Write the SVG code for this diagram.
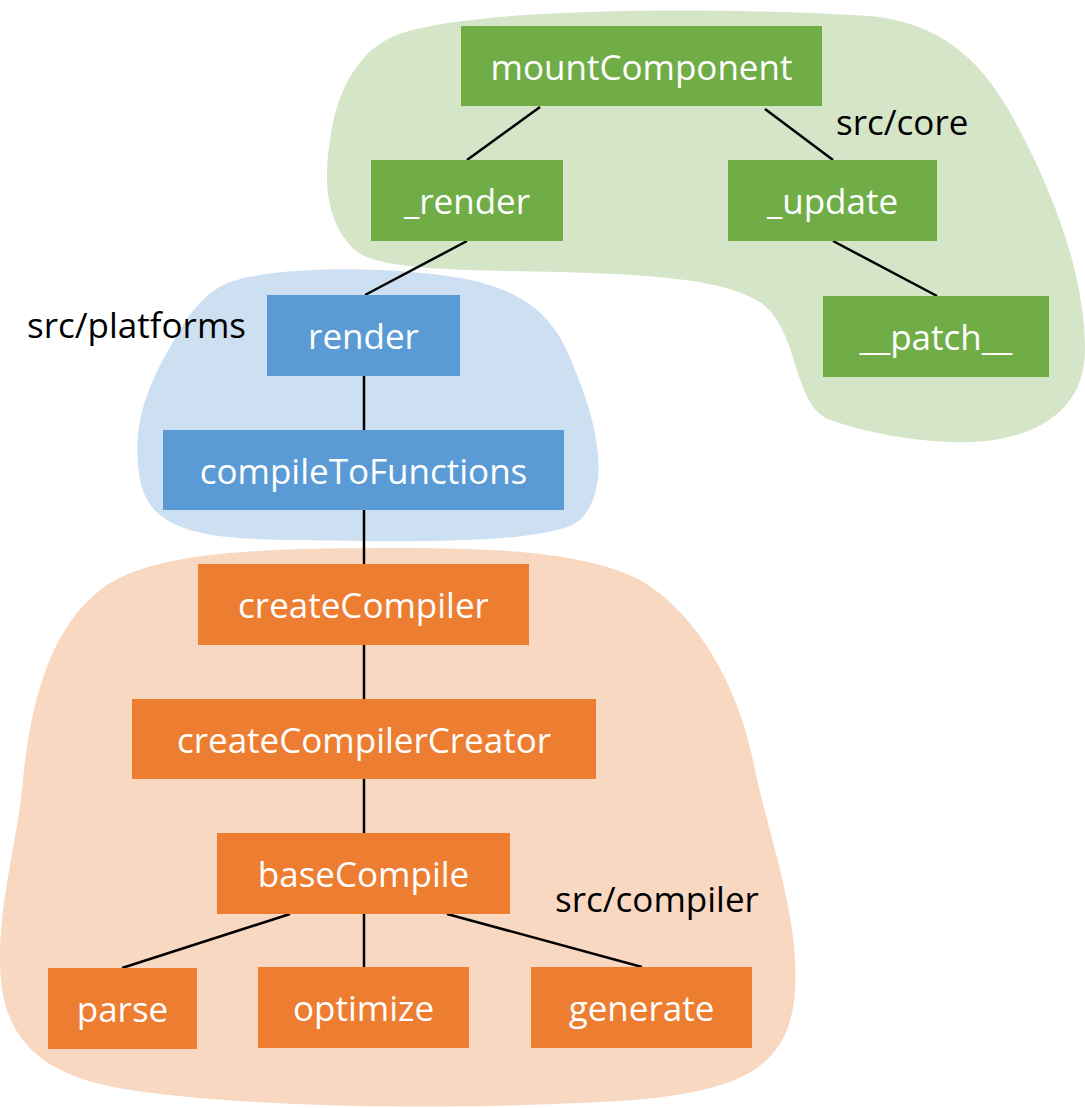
<svg xmlns="http://www.w3.org/2000/svg" width="1085" height="1108" viewBox="0 0 1085 1108">
<style>
.g{fill:#70AD47}.b{fill:#5B9BD5}.o{fill:#ED7D31}
.t{font-family:"Open Sans","Noto Sans","Liberation Sans",sans-serif;font-size:35px;fill:#fff;text-anchor:middle}
.l{font-family:"Open Sans","Noto Sans","Liberation Sans",sans-serif;font-size:35px;fill:#000}
.c{stroke:#000;stroke-width:2.5;fill:none}
</style>
<rect width="1085" height="1108" fill="#fff"/>
<g id="areas">
<path id="area-core" fill="#D5E5C8" d="M 390,38 C 450,8 700,6 870,16 C 950,24 985,70 1010,112 C 1050,185 1085,270 1085,350 C 1085,420 1020,445 950,442 C 900,440 860,430 830,420 C 792,405 800,330 760,302 C 720,278 650,275 560,272 C 480,270 380,272 355,250 C 322,220 325,170 330,140 C 336,95 355,55 390,38 Z"/>
<path id="area-platforms" fill="#CDE0F1" d="M 230,282 C 280,265 400,266 470,280 C 540,295 560,330 575,370 C 600,430 610,490 580,520 C 550,545 400,542 300,540 C 200,540 150,530 140,480 C 130,420 150,380 180,330 C 195,305 210,290 230,282 Z"/>
<path id="area-compiler" fill="#F9D8C2" d="M 100,590 C 150,552 250,548 400,548 C 520,548 590,555 640,580 C 700,615 740,690 755,770 C 770,840 800,920 795,990 C 790,1070 740,1095 600,1102 C 450,1110 250,1108 130,1090 C 30,1075 0,1030 0,960 C 0,900 15,850 22,790 C 30,700 50,630 100,590 Z"/>
</g>
<g id="labels">
<text class="l" x="836" y="135">src/core</text>
<text class="l" x="27" y="338">src/platforms</text>
<text class="l" x="555" y="912">src/compiler</text>
</g>
<g id="connectors">
<line class="c" x1="540" y1="107" x2="467" y2="160"/>
<line class="c" x1="765" y1="109" x2="833" y2="160"/>
<line class="c" x1="467" y1="241" x2="365" y2="295"/>
<line class="c" x1="833" y1="241" x2="937" y2="296"/>
<line class="c" x1="364" y1="376" x2="364" y2="430"/>
<line class="c" x1="364" y1="510" x2="364" y2="564"/>
<line class="c" x1="364" y1="645" x2="364" y2="699"/>
<line class="c" x1="364" y1="779" x2="364" y2="833"/>
<line class="c" x1="290" y1="914" x2="122" y2="968"/>
<line class="c" x1="364" y1="914" x2="364" y2="967"/>
<line class="c" x1="447" y1="914" x2="642" y2="967"/>
</g>
<g id="mountComponent"><rect class="g" x="461" y="26" width="361" height="80"/><text class="t" x="641.5" y="80">mountComponent</text></g>
<g id="_render"><rect class="g" x="371" y="160" width="192" height="81"/><text class="t" x="467" y="214">_render</text></g>
<g id="_update"><rect class="g" x="728" y="160" width="209" height="81"/><text class="t" x="832.5" y="214">_update</text></g>
<g id="__patch__"><rect class="g" x="823" y="296" width="226" height="81"/><text class="t" x="936" y="350">__patch__</text></g>
<g id="render"><rect class="b" x="267" y="295" width="193" height="81"/><text class="t" x="363.5" y="349">render</text></g>
<g id="compileToFunctions"><rect class="b" x="163" y="430" width="401" height="80"/><text class="t" x="363.5" y="484">compileToFunctions</text></g>
<g id="createCompiler"><rect class="o" x="198" y="564" width="331" height="81"/><text class="t" x="363.5" y="618">createCompiler</text></g>
<g id="createCompilerCreator"><rect class="o" x="132" y="699" width="464" height="80"/><text class="t" x="364" y="753">createCompilerCreator</text></g>
<g id="baseCompile"><rect class="o" x="217" y="833" width="293" height="81"/><text class="t" x="363.5" y="887">baseCompile</text></g>
<g id="parse"><rect class="o" x="48" y="968" width="149" height="81"/><text class="t" x="122.5" y="1022">parse</text></g>
<g id="optimize"><rect class="o" x="258" y="967" width="211" height="81"/><text class="t" x="363.5" y="1021">optimize</text></g>
<g id="generate"><rect class="o" x="531" y="967" width="221" height="81"/><text class="t" x="641.5" y="1021">generate</text></g>
</svg>
